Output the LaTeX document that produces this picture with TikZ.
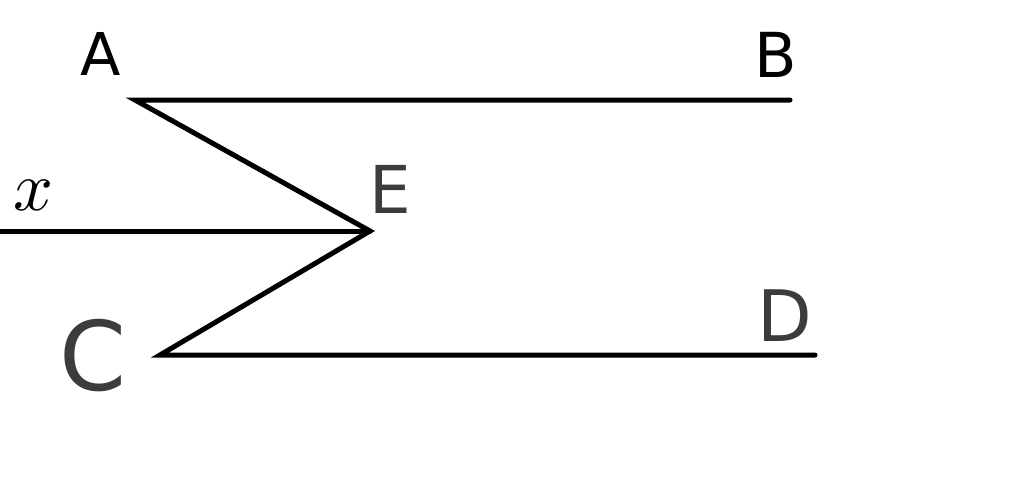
\documentclass[tikz,border=0pt]{standalone}
\usepackage{fontspec}
\setsansfont{DejaVu Sans}
\definecolor{dgray}{HTML}{3C3C3C}
\tikzset{
  seg/.style={line width=5pt, line cap=round, line join=miter, black},
  lbl/.style={inner sep=0pt, font=\sffamily},
}
\begin{document}
\begin{tikzpicture}[x=1pt,y=-1pt]
\useasboundingbox (0,0) rectangle (1024,491);
\coordinate (A) at (135,100);
\coordinate (B) at (790,100);
\coordinate (E) at (370,231);
\coordinate (C) at (160,355);
\coordinate (D) at (815,355);
\coordinate (X) at (-5,231);
\draw[seg] (B) -- (A) -- (E) -- (C) -- (D);
\draw[seg] (X) -- (E);
\node[lbl, font=\sffamily\fontsize{59}{59}\selectfont] (lA) at (101,54) {A};
\node[lbl, font=\sffamily\fontsize{62}{62}\selectfont] (lB) at (776,55) {B};
\node[lbl, text=dgray, font=\sffamily\fontsize{66}{66}\selectfont] (lE) at (390,189) {E};
\node[lbl, text=dgray, font=\sffamily\fontsize{96}{96}\selectfont] (lC) at (93,356) {C};
\node[lbl, text=dgray, font=\sffamily\fontsize{71}{71}\selectfont] (lD) at (785,316) {D};
\node[lbl, scale=7] (lx) at (34,195) {$x$};
\end{tikzpicture}
\end{document}
